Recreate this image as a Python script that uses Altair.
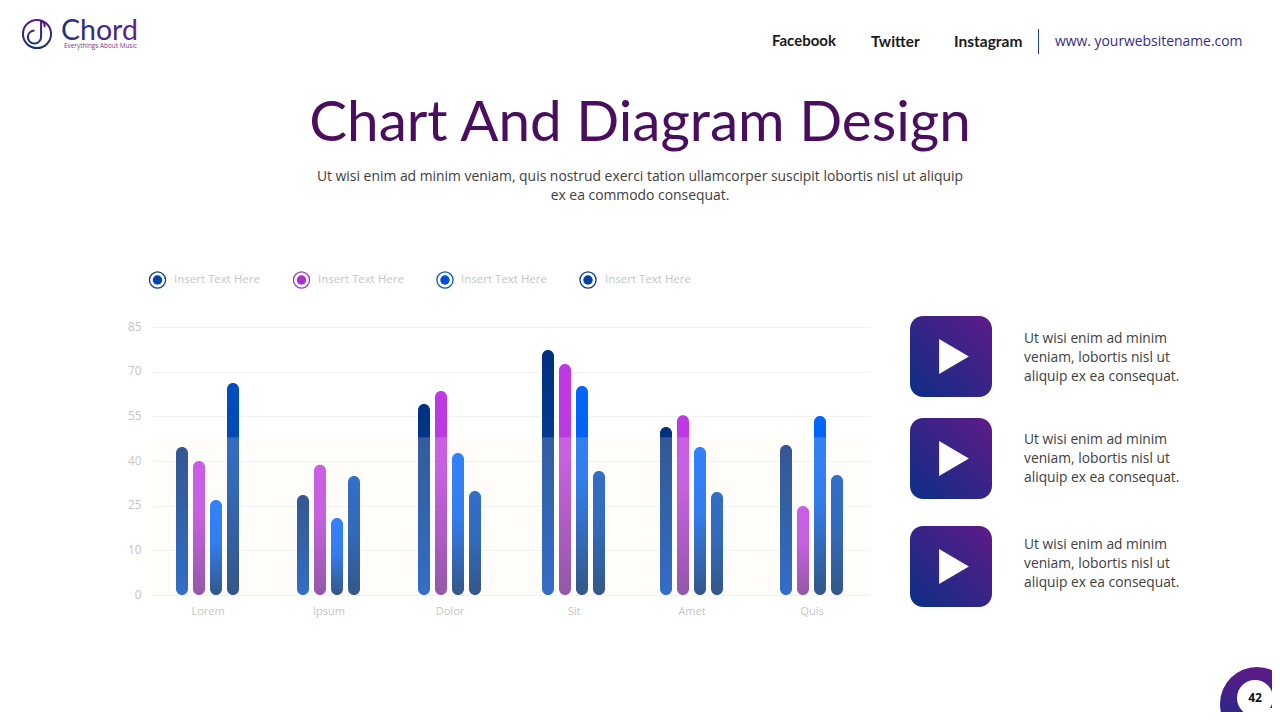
import altair as alt
import pandas as pd

categories = ["Lorem", "Ipsum", "Dolor", "Sit", "Amet", "Quis"]
series_a = [44.7, 28.6, 59.1, 77.3, 51.4, 45.4]
series_b = [40.0, 38.7, 63.5, 72.6, 55.4, 24.9]
series_c = [26.9, 20.9, 42.7, 65.2, 44.7, 55.1]
series_d = [66.2, 35.0, 29.9, 36.6, 29.6, 35.3]
y_ticks = [0, 10, 25, 40, 55, 70, 85]
legend_labels = ["Insert Text  Here"] * 4
side_text = ["Ut wisi enim  ad minim", "veniam, lobortis  nisl ut", "aliquip ex ea consequat."]
subtitle = [
    "Ut wisi enim  ad minim  veniam,  quis nostrud  exerci tation  ullamcorper  suscipit lobortis  nisl ut  aliquip",
    "ex ea commodo  consequat.",
]

OX, OY = 152, 327          # page position of plot origin
W, H = 718, 268
one = pd.DataFrame({"a": [0]})


def px(x):
    return alt.value(x - OX)


def py(y):
    return alt.value(y - OY)


def grad(stops, x1=0, y1=0, x2=0, y2=1):
    return alt.LinearGradient(
        gradient="linear", x1=x1, y1=y1, x2=x2, y2=y2,
        stops=[alt.GradientStop(color=c, offset=o) for o, c in stops],
    )


def text(t, x, y, size=14, color="#404040", font="Open Sans", align="left", weight="normal"):
    return alt.Chart(one).mark_text(
        text=t, fontSize=size, color=color, font=font, align=align, baseline="middle", fontWeight=weight
    ).encode(x=px(x), y=py(y))


x_scale = alt.Scale(domain=[-1, 0, 1, 2, 3, 4, 5, 6],
                    range=[0, 55.5, 176.5, 297.5, 421.5, 539.5, 659.5, W], padding=0, nice=False)
y_scale = alt.Scale(domain=y_ticks, range=[H - H * i / 6 for i in range(7)], nice=False)

df = pd.DataFrame({
    "pos": list(range(6)) * 4,
    "value": series_a + series_b + series_c + series_d,
    "series": ["A"] * 6 + ["B"] * 6 + ["C"] * 6 + ["D"] * 6,
})

label_expr = "[" + ",".join(f"'{c}'" for c in categories) + "][datum.value]"
x_axis = alt.Axis(
    values=list(range(6)), labelExpr=label_expr, title=None, grid=False, ticks=False, domain=False,
    labelColor="#c4c4c4", labelFontSize=11, labelFont="Open Sans", labelPadding=10, labelAngle=0,
    labelFlush=False, labelOverlap=False,
)
y_axis = alt.Axis(
    values=y_ticks, title=None, grid=True, gridColor="#f2f2f2", ticks=False, domain=False,
    labelColor="#c4c4c4", labelFontSize=11.8, labelFont="Open Sans", labelPadding=11, labelOffset=-1,
)

gradients = {
    "A": [(0, "#02307f"), (0.35, "#023a90"), (1, "#004cc0")],
    "B": [(0, "#c038e6"), (0.4, "#b83cde"), (1, "#7a3198")],
    "C": [(0, "#0066ff"), (0.45, "#0060ef"), (1, "#02306f")],
    "D": [(0, "#004ec0"), (0.45, "#0048b0"), (1, "#02306f")],
}
offsets = {"A": -25.5, "B": -8.5, "C": 8.5, "D": 25.5}

layers = []
# bars
for s in "ABCD":
    layers.append(
        alt.Chart(df).transform_filter(f"datum.series === '{s}'").mark_bar(
            width=12, cornerRadius=6, xOffset=offsets[s], fill=grad(gradients[s])
        ).encode(
            x=alt.X("pos:Q", scale=x_scale, axis=x_axis),
            y=alt.Y("value:Q", scale=y_scale, axis=y_axis),
            y2=alt.Y2(datum=0),
        )
    )
# translucent cream band
layers.append(
    alt.Chart(one).mark_rect(color="#fff6e6", opacity=0.2).encode(
        x=alt.value(0), x2=alt.value(W),
        y=alt.Y(datum=48, scale=y_scale, axis=y_axis), y2=alt.Y2(datum=0),
    )
)

# legend
legend_x = [157.5, 301.5, 445, 588]
legend_text_x = [174, 318, 461, 605]
legend_ring = ["#0a3d8f", "#9a3cc0", "#0a55c8", "#0a3d8f"]
legend_dot = ["#0046a8", "#a52fcf", "#0050d8", "#00429c"]
for i in range(4):
    layers.append(
        alt.Chart(one).mark_point(shape="circle", size=260, filled=False, stroke=legend_ring[i],
                                  strokeWidth=1.3, opacity=1).encode(x=px(legend_x[i]), y=py(280))
    )
    layers.append(
        alt.Chart(one).mark_point(shape="circle", size=90, filled=True, fill=legend_dot[i],
                                  opacity=1).encode(x=px(legend_x[i]), y=py(280))
    )
    layers.append(text(legend_labels[i], legend_text_x[i], 279.5, size=11.5, color="#c6c6c6"))

# header
logo_grad = grad([(0, "#5d1a86"), (1, "#10307f")])
layers.append(
    alt.Chart(one).mark_point(shape="circle", size=790, filled=False, stroke=logo_grad, strokeWidth=2,
                              opacity=1).encode(x=px(37), y=py(34))
)
layers.append(
    alt.Chart(one).mark_point(
        shape="M0.27,0.2 A0.44,0.44 0 1 1 -0.17,-0.24 M0.27,0.2 L0.27,-0.85 Q0.55,-0.8 0.5,-0.45",
        size=900, filled=False, stroke=logo_grad, strokeWidth=2, opacity=1,
    ).encode(x=px(37), y=py(34))
)
layers.append(
    alt.Chart(one).mark_text(
        text="Chord", fontSize=28.5, font="Lato", align="left", baseline="middle",
        fill=grad([(0, "#20307f"), (1, "#5d2088")], x2=1, y2=0),
    ).encode(x=px(61), y=py(31))
)
layers.append(text("Everythings About Music", 64, 45.5, size=6.4, color="#6b3a90"))
layers.append(text("Facebook", 772, 40.5, size=15, color="#1a1a1a", font="Lato", weight="bold"))
layers.append(text("Twitter", 871, 41.5, size=15.3, color="#1a1a1a", font="Lato", weight="bold"))
layers.append(text("Instagram", 954, 41.5, size=15.5, color="#1a1a1a", font="Lato", weight="bold"))
layers.append(
    alt.Chart(one).mark_rule(color="#1f3d8a", strokeWidth=1).encode(x=px(1038.5), y=py(29), y2=py(54))
)
layers.append(text("www.  yourwebsitename.com", 1055, 42, size=13.9, color="#3a2a80", font="Open Sans"))

# title
layers.append(text("Chart And Diagram Design", 640, 124, size=56.6, color="#4a0e5e", font="Lato", align="center"))
layers.append(text(subtitle[0], 640, 177, size=13.9, align="center"))
layers.append(text(subtitle[1], 640, 196, size=13.9, align="center"))

# side tiles
tile_top = [316, 418, 526]
line_y = [[339, 358, 377], [440, 459, 478], [545, 564, 583]]
tile_grad = grad([(0, "#5f1a88"), (1, "#0c2f85")], x1=1, y1=0, x2=0, y2=1)
for i in range(3):
    t = tile_top[i]
    layers.append(
        alt.Chart(one).mark_rect(fill=tile_grad, cornerRadius=13, opacity=1).encode(
            x=px(910), x2=px(992), y=py(t), y2=py(t + 81)
        )
    )
    layers.append(
        alt.Chart(one).mark_point(shape="M-0.85,-1 L0.85,0 L-0.85,1 Z", size=1225, filled=True,
                                  fill="#ffffff", opacity=1).encode(x=px(954), y=py(t + 40.5))
    )
    for j in range(3):
        layers.append(text(side_text[j], 1024, line_y[i][j], size=13.8))

# page badge
layers.append(
    alt.Chart(one).mark_point(shape="circle", size=5476, filled=True, opacity=1,
                              fill=grad([(0, "#5f1a88"), (1, "#0c2f85")])).encode(x=px(1257), y=py(704))
)
layers.append(
    alt.Chart(one).mark_point(shape="circle", size=1296, filled=True, fill="#ffffff", opacity=1).encode(x=px(1255), y=py(698))
)
layers.append(
    alt.Chart(one).mark_rect(fill="#ffffff", opacity=1).encode(x=px(1255), x2=px(1272), y=py(708), y2=py(712))
)
layers.append(text("42", 1255, 698, size=12, color="#111111", font="Open Sans", align="center", weight="bold"))

chart = alt.layer(*layers).properties(
    width=W, height=H,
    padding={"left": OX - 8, "top": OY - 8, "right": 1272 - (OX + W), "bottom": 712 - (OY + H)},
    autosize=alt.AutoSizeParams(type="none"),
    background="#ffffff",
).configure_view(stroke=None)

chart.save("out.html", embed_options={"renderer": "svg", "actions": False})
